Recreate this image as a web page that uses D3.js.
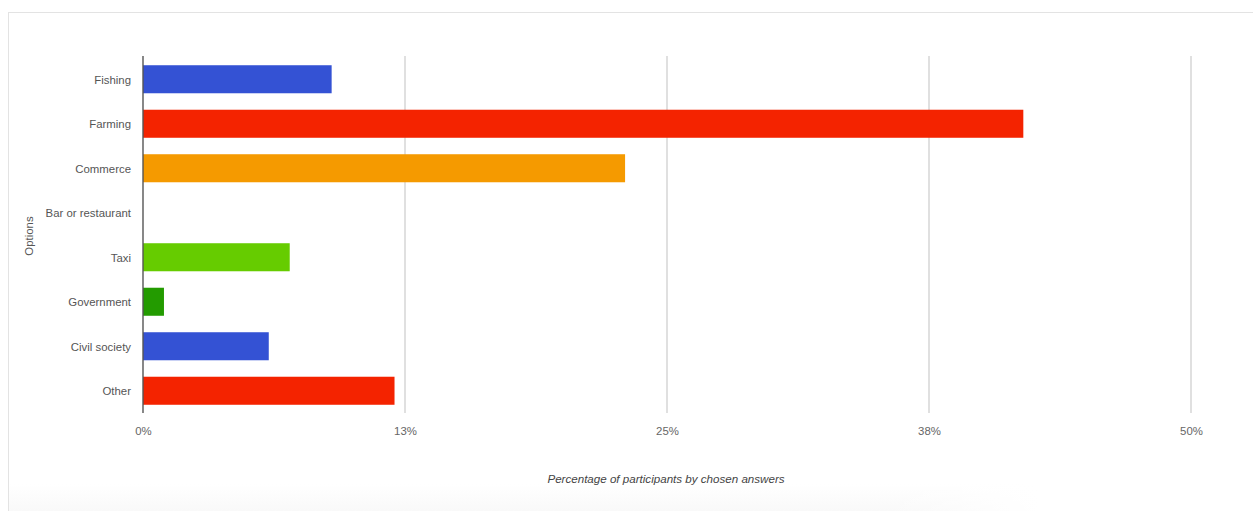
<!DOCTYPE html>
<html><head><meta charset="utf-8">
<script src="https://cdn.jsdelivr.net/npm/d3@7"></script>
<style>body{margin:0;background:#fff;}svg{display:block;font-family:Arial,"Liberation Sans",sans-serif;}</style>
</head><body>
<svg id="c" width="1253" height="511"></svg>
<script>
const categories = ["Fishing","Farming","Commerce","Bar or restaurant","Taxi","Government","Civil society","Other"];
const values = [9,42,23,0,7,1,6,12];
const colors = ["#3452d4","#f42300","#f59a00","#3452d4","#66cc00","#239b00","#3452d4","#f42300"];
const tickValues = [0,12.5,25,37.5,50];
const tickLabels = ["0%","13%","25%","38%","50%"];

const svg = d3.select("#c");
const defs = svg.append("defs");
const g1 = defs.append("linearGradient").attr("id","fade").attr("x1",0).attr("y1",0).attr("x2",0).attr("y2",1);
g1.append("stop").attr("offset","0").attr("stop-color","#fff");
g1.append("stop").attr("offset","1").attr("stop-color","#f9f9f9");
const g2 = defs.append("linearGradient").attr("id","fadeR").attr("x1",0).attr("y1",0).attr("x2",1).attr("y2",0);
g2.append("stop").attr("offset","0.85").attr("stop-color","#fff").attr("stop-opacity",0);
g2.append("stop").attr("offset","1").attr("stop-color","#fff").attr("stop-opacity",1);
svg.append("rect").attr("x",9).attr("y",484).attr("width",1030).attr("height",27).attr("fill","url(#fade)");
svg.append("rect").attr("x",9).attr("y",484).attr("width",1030).attr("height",27).attr("fill","url(#fadeR)");

// frame
svg.append("line").attr("x1",8).attr("x2",1253).attr("y1",12.5).attr("y2",12.5).attr("stroke","#e3e3e3");
svg.append("line").attr("x1",8.5).attr("x2",8.5).attr("y1",12).attr("y2",511).attr("stroke","#e3e3e3");

const x = d3.scaleLinear().domain([0,50]).range([143,1191]);
const y = d3.scaleBand().domain(categories).range([57,413]).paddingInner(0.37).paddingOuter(0.185);

// gridlines
svg.append("g").selectAll("line").data(tickValues.slice(1)).join("line")
  .attr("x1",d=>x(d)).attr("x2",d=>x(d)).attr("y1",56).attr("y2",413)
  .attr("stroke","#d9d9d9").attr("stroke-width",1.6);

// bars
svg.append("g").selectAll("rect").data(categories).join("rect")
  .attr("x",x(0)).attr("y",d=>y(d)).attr("height",y.bandwidth())
  .attr("width",(d,i)=>x(values[i])-x(0)).attr("fill",(d,i)=>colors[i]);

// axis line
svg.append("line").attr("x1",143).attr("x2",143).attr("y1",56).attr("y2",413).attr("stroke","#555").attr("stroke-width",1.4);

// y labels
const yAxis = d3.axisLeft(y).tickSize(0).tickPadding(12);
const ya = svg.append("g").attr("transform","translate(143,1)").call(yAxis);
ya.select(".domain").remove();
ya.selectAll("text").attr("font-size",11.4).attr("fill","#555").attr("font-family","Arial,'Liberation Sans',sans-serif");

// x labels
const xAxis = d3.axisBottom(x).tickValues(tickValues).tickFormat((d,i)=>tickLabels[i]).tickSize(0).tickPadding(14);
const xa = svg.append("g").attr("transform","translate(0,413)").call(xAxis);
xa.select(".domain").remove();
xa.selectAll("text").attr("font-size",11.4).attr("fill","#666").attr("font-family","Arial,'Liberation Sans',sans-serif");

// titles
svg.append("text").attr("x",666).attr("y",483).attr("text-anchor","middle").attr("font-size",11.6)
  .attr("font-style","italic").attr("fill","#444").text("Percentage of participants by chosen answers");
svg.append("text").attr("transform","translate(33,236) rotate(-90)").attr("text-anchor","middle")
  .attr("font-size",11.4).attr("fill","#555").text("Options");
</script>
</body></html>
